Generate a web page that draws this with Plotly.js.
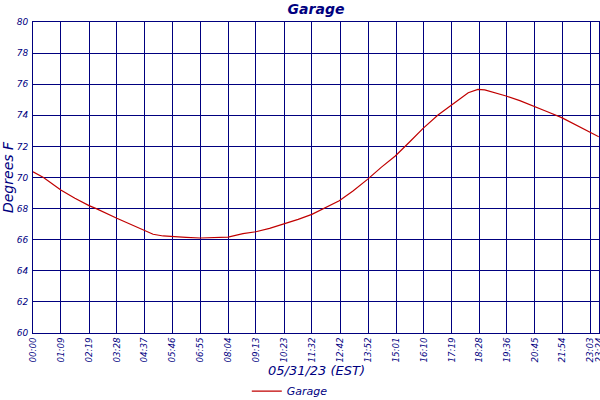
<!DOCTYPE html>
<html>
<head>
<meta charset="utf-8">
<script src="https://cdn.plot.ly/plotly-3.0.1.min.js"></script>
<style>
  html, body { margin: 0; padding: 0; background: #fff; }
  #chart { width: 600px; height: 400px; }
</style>
</head>
<body>
<div id="chart"></div>
<script>
// readings for 05/31/23, time of day and temperature (deg F)
const times = ['00:00','00:26','01:09','01:44','02:19','02:37','03:28','04:03','04:37','04:58','05:23','05:46',
  '06:20','06:55','07:30','08:04','08:41','09:13','09:47','10:23','10:58','11:32','12:04','12:40',
  '13:14','13:50','14:24','14:59','15:35','16:08','16:45','17:17','17:39','18:00','18:24',
  '18:41','19:01','19:34','20:08','20:43','21:18','21:52','22:28','23:03','23:24'];
const temps = [70.37, 70.0, 69.2, 68.66, 68.19, 68.0, 67.38, 66.99, 66.58, 66.35, 66.24, 66.22,
  66.15, 66.11, 66.13, 66.17, 66.39, 66.51, 66.73, 67.0, 67.31, 67.63, 68.06, 68.51,
  69.13, 69.88, 70.65, 71.38, 72.3, 73.16, 74.02, 74.66, 75.05, 75.45, 75.67,
  75.63, 75.5, 75.24, 74.94, 74.6, 74.21, 73.85, 73.38, 72.91, 72.62];
const tickLabels = ['00:00','01:09','02:19','03:28','04:37','05:46','06:55','08:04','09:13','10:23','11:32',
  '12:42','13:52','15:01','16:10','17:19','18:28','19:36','20:45','21:54','23:03','23:24'];

const navy = '#00007f';
const toMin = s => { const p = s.split(':'); return (+p[0]) * 60 + (+p[1]); };
const fontFam = '"DejaVu Sans", Verdana, sans-serif';

const trace = {
  x: times.map(toMin),
  y: temps,
  type: 'scatter',
  mode: 'lines',
  name: 'Garage',
  line: { color: '#c00000', width: 1.2 },
  hoverinfo: 'skip'
};

const layout = {
  width: 600,
  height: 400,
  margin: { l: 33, r: 1, t: 22, b: 67 },
  paper_bgcolor: '#fff',
  plot_bgcolor: '#fff',
  font: { family: fontFam, color: navy, size: 9, style: 'italic' },
  title: {
    text: '<b><i>Garage</i></b>',
    font: { family: fontFam, size: 14, color: navy },
    xref: 'paper', x: 0.5, xanchor: 'center',
    yref: 'container', y: 0.977, yanchor: 'middle'
  },
  xaxis: {
    range: [0, toMin(tickLabels[tickLabels.length - 1]) + 0.5],
    automargin: false,
    tickmode: 'array',
    tickvals: tickLabels.map(toMin),
    ticktext: tickLabels,
    tickangle: -90,
    ticklabeloverflow: 'allow',
    tickfont: { family: fontFam, size: 8.7, color: navy, style: 'italic' },
    ticks: '',
    showgrid: true,
    gridcolor: navy,
    gridwidth: 1,
    showline: true,
    linecolor: navy,
    linewidth: 1,
    mirror: true,
    zeroline: false
  },
  yaxis: {
    range: [60, 80],
    automargin: false,
    dtick: 2,
    tick0: 60,
    tickfont: { family: fontFam, size: 9, color: navy, style: 'italic' },
    ticks: '',
    ticklabelstandoff: 2,
    showgrid: true,
    gridcolor: navy,
    gridwidth: 1,
    showline: true,
    linecolor: navy,
    linewidth: 1,
    mirror: true,
    zeroline: false,
    title: {
      text: 'Degrees F',
      font: { family: fontFam, size: 14, color: navy, style: 'italic' },
      standoff: 2
    }
  },
  annotations: [{
    text: '05/31/23 (EST)',
    xref: 'paper', x: 0.5, xanchor: 'center',
    yref: 'paper', y: -0.122, yanchor: 'middle',
    showarrow: false,
    font: { family: fontFam, size: 13, color: navy, style: 'italic' }
  }],
  showlegend: true,
  legend: {
    orientation: 'h',
    xref: 'container', yref: 'container',
    x: 0.483, xanchor: 'center',
    y: 0.022, yanchor: 'middle',
    font: { family: fontFam, size: 11, color: navy, style: 'italic' },
    bgcolor: 'rgba(0,0,0,0)',
    itemwidth: 30
  }
};

Plotly.newPlot('chart', [trace], layout, { staticPlot: true, displayModeBar: false });
</script>
</body>
</html>
